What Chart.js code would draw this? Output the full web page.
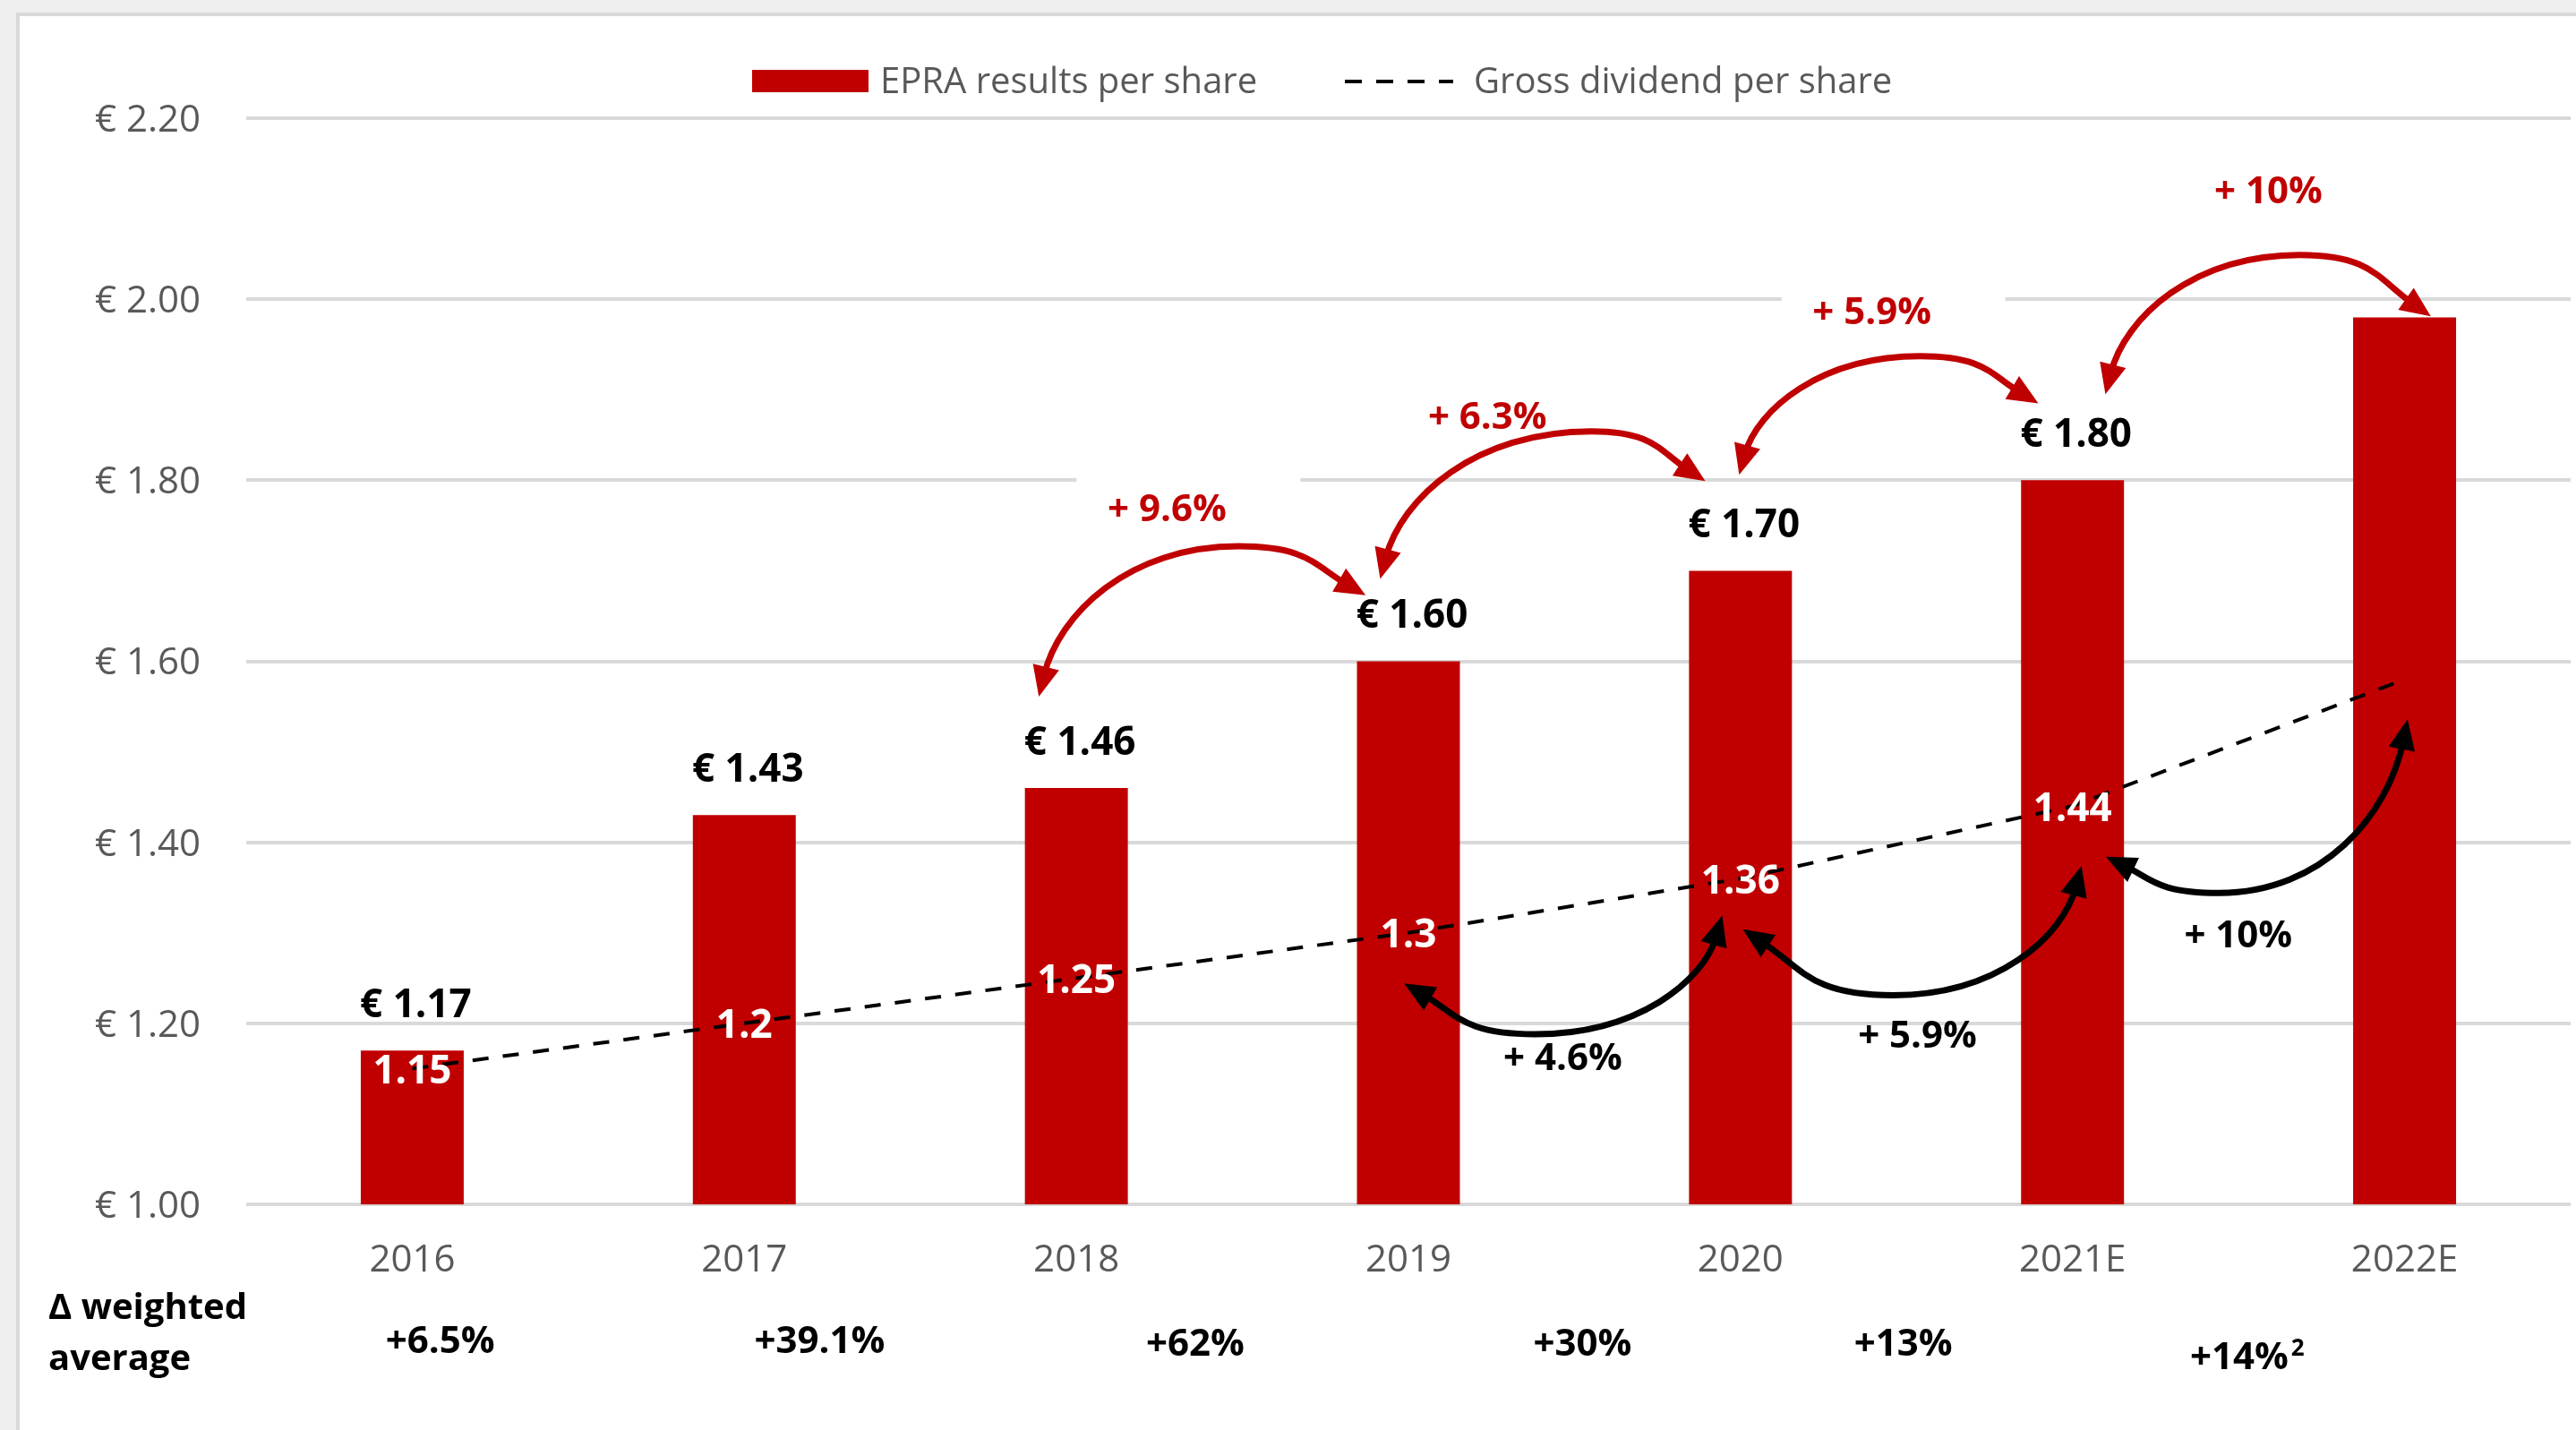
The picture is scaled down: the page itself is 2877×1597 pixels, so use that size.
<!DOCTYPE html>
<html>
<head>
<meta charset="utf-8">
<script src="https://cdn.jsdelivr.net/npm/chart.js@4.4.0/dist/chart.umd.min.js"></script>
<style>
  html, body { margin: 0; padding: 0; background: #efefef; overflow: hidden; }
  #panel { position: absolute; left: 18px; top: 14px; width: 2900px; height: 1650px; background: #fff; border: 4px solid #d9d9d9; box-sizing: border-box; }
  #wrap { position: absolute; left: 0; top: 0; width: 2877px; height: 1597px; }
</style>
</head>
<body>
<div id="panel"></div>
<div id="wrap"><canvas id="epraChart"></canvas></div>
<script>
const years = ['2016', '2017', '2018', '2019', '2020', '2021E', '2022E'];
const epraResults = [1.17, 1.43, 1.46, 1.60, 1.70, 1.80, 1.98];
const grossDividend = [1.15, 1.2, 1.25, 1.3, 1.36, 1.44, 1.58];
const yTicks = [1.00, 1.20, 1.40, 1.60, 1.80, 2.00, 2.20];
const epraLabels = ['€ 1.17', '€ 1.43', '€ 1.46', '€ 1.60', '€ 1.70', '€ 1.80', ''];
const dividendLabels = ['1.15', '1.2', '1.25', '1.3', '1.36', '1.44', ''];
const epraGrowth = ['+ 9.6%', '+ 6.3%', '+ 5.9%', '+ 10%'];
const dividendGrowth = ['+ 4.6%', '+ 5.9%', '+ 10%'];
const weightedAvg = ['+6.5%', '+39.1%', '+62%', '+30%', '+13%', '+14%'];

const FONT = '"Open Sans", "Liberation Sans", sans-serif';
const RED = '#c00000';

// curved arrows in (category index, value) units: start, apex, end, text
const redArrows = [
  { s: [1.887, 1.561], a: [2.488, 1.727], e: [2.871, 1.673], t: [2.273, 1.770] },
  { s: [2.915, 1.691], a: [3.551, 1.854], e: [3.894, 1.799], t: [3.238, 1.872] },
  { s: [3.996, 1.806], a: [4.541, 1.937], e: [4.897, 1.885], t: [4.396, 1.987] },
  { s: [5.099, 1.895], a: [5.685, 2.049], e: [6.079, 1.981], t: [5.590, 2.121] }
];
const blackArrows = [
  { s: [2.987, 1.244], a: [3.381, 1.188], e: [3.945, 1.319], t: [3.465, 1.163] },
  { s: [4.007, 1.304], a: [4.460, 1.231], e: [5.027, 1.374], t: [4.533, 1.188] },
  { s: [5.100, 1.384], a: [5.442, 1.344], e: [6.009, 1.536], t: [5.499, 1.299] }
];
// bottom row: x in category units, y offset below the plot
const weightedPos = [[0.084, 154], [1.227, 154], [2.358, 157], [3.524, 157], [4.490, 157], [5.502, 172]];

function drawArrow(ctx, s, a, e, redStyle, color) {
  const dx1 = a.x - s.x, dy1 = a.y - s.y, dx2 = e.x - a.x, dy2 = e.y - a.y;
  const c1 = redStyle ? {x: s.x + 0.1 * dx1, y: s.y + 0.55 * dy1} : {x: s.x + 0.4 * dx1, y: s.y + 0.6 * dy1};
  const c2 = {x: a.x - 0.55 * dx1, y: a.y};
  const c3 = {x: a.x + 0.55 * dx2, y: a.y};
  const c4 = redStyle ? {x: e.x - 0.4 * dx2, y: e.y - 0.6 * dy2} : {x: e.x - 0.1 * dx2, y: e.y - 0.55 * dy2};
  const L = 34, W = 15;
  const unit = (p, q) => { const d = Math.hypot(p.x - q.x, p.y - q.y); return {x: (p.x - q.x) / d, y: (p.y - q.y) / d}; };
  const dS = unit(s, c1), dE = unit(e, c4);
  const s2 = {x: s.x - dS.x * L * 0.7, y: s.y - dS.y * L * 0.7};
  const e2 = {x: e.x - dE.x * L * 0.7, y: e.y - dE.y * L * 0.7};
  ctx.strokeStyle = color;
  ctx.fillStyle = color;
  ctx.lineWidth = 7;
  ctx.setLineDash([]);
  ctx.beginPath();
  ctx.moveTo(s2.x, s2.y);
  ctx.bezierCurveTo(c1.x, c1.y, c2.x, c2.y, a.x, a.y);
  ctx.bezierCurveTo(c3.x, c3.y, c4.x, c4.y, e2.x, e2.y);
  ctx.stroke();
  [[s, dS], [e, dE]].forEach(([p, d]) => {
    const bx = p.x - d.x * L, by = p.y - d.y * L;
    ctx.beginPath();
    ctx.moveTo(p.x, p.y);
    ctx.lineTo(bx - d.y * W, by + d.x * W);
    ctx.lineTo(bx + d.y * W, by - d.x * W);
    ctx.closePath();
    ctx.fill();
  });
}

const annotations = {
  id: 'annotations',
  beforeDatasetsDraw(chart) {
    const {ctx, scales: {x, y}} = chart;
    ctx.save();
    ctx.fillStyle = '#ffffff';
    redArrows.forEach(a => {
      const cx = x.getPixelForValue(a.t[0]) + 24, cy = y.getPixelForValue(a.t[1]);
      ctx.fillRect(cx - 125, cy - 35, 250, 70);
    });
    ctx.restore();
  },
  afterDatasetsDraw(chart) {
    const {ctx, scales: {x, y}, chartArea} = chart;
    const pt = v => ({x: x.getPixelForValue(v[0]), y: y.getPixelForValue(v[1])});
    ctx.save();
    ctx.textAlign = 'center';
    ctx.textBaseline = 'middle';

    // bar value labels
    ctx.font = 'bold 44px ' + FONT;
    ctx.fillStyle = '#000000';
    chart.getDatasetMeta(0).data.forEach((bar, i) => {
      if (epraLabels[i]) ctx.fillText(epraLabels[i], bar.x + 4, bar.y - 50);
    });
    // dividend labels
    ctx.fillStyle = '#ffffff';
    chart.getDatasetMeta(1).data.forEach((p, i) => {
      if (dividendLabels[i]) ctx.fillText(dividendLabels[i], p.x, p.y + 4);
    });

    // arrows
    redArrows.forEach(a => drawArrow(ctx, pt(a.s), pt(a.a), pt(a.e), true, RED));
    blackArrows.forEach(a => drawArrow(ctx, pt(a.s), pt(a.a), pt(a.e), false, '#000000'));

    ctx.font = 'bold 42px ' + FONT;
    ctx.fillStyle = RED;
    redArrows.forEach((a, i) => { const p = pt(a.t); ctx.fillText(epraGrowth[i], p.x, p.y + 3); });
    ctx.fillStyle = '#000000';
    blackArrows.forEach((a, i) => { const p = pt(a.t); ctx.fillText(dividendGrowth[i], p.x, p.y + 3); });

    // weighted average row
    weightedPos.forEach(([c, dy], i) => {
      const px = x.getPixelForValue(c), py = chartArea.bottom + dy;
      ctx.font = 'bold 42px ' + FONT;
      ctx.textAlign = 'center';
      ctx.fillText(weightedAvg[i], px, py);
      if (i === weightedAvg.length - 1) {
        const w = ctx.measureText(weightedAvg[i]).width;
        ctx.font = 'bold 26px ' + FONT;
        ctx.textAlign = 'left';
        ctx.fillText('2', px + w / 2 + 3, py - 10);
      }
    });
    ctx.font = 'bold 40px ' + FONT;
    ctx.textAlign = 'left';
    ctx.fillText('\u0394 weighted', 54, chartArea.bottom + 117);
    ctx.fillText('average', 54, chartArea.bottom + 174);

    // legend
    ctx.font = '40px ' + FONT;
    ctx.fillStyle = RED;
    ctx.fillRect(840, 78, 130, 25);
    ctx.fillStyle = '#595959';
    ctx.fillText(chart.data.datasets[0].label, 983, 93);
    ctx.strokeStyle = '#000000';
    ctx.lineWidth = 4;
    ctx.setLineDash([19, 16]);
    ctx.beginPath();
    ctx.moveTo(1502, 91);
    ctx.lineTo(1623, 91);
    ctx.stroke();
    ctx.fillText(chart.data.datasets[1].label, 1646, 93);
    ctx.restore();
  }
};

const ctx = document.getElementById('epraChart').getContext('2d');

new Chart(ctx, {
    data: {
        labels: years,
        datasets: [{
            type: 'bar',
            label: 'EPRA results per share',
            data: epraResults,
            backgroundColor: RED,
            categoryPercentage: 1,
            barPercentage: 0.31,
            order: 1
        }, {
            type: 'line',
            label: 'Gross dividend per share',
            data: grossDividend,
            borderColor: '#000000',
            borderWidth: 4,
            borderDash: [18, 16],
            pointRadius: 0,
            tension: 0,
            fill: false,
            order: 0
        }]
    },
    options: {
        responsive: true,
        maintainAspectRatio: false,
        animation: false,
        devicePixelRatio: 1,
        layout: {
            padding: { top: 132, right: 6, left: 0, bottom: 0 }
        },
        scales: {
            x: {
                grid: { display: false },
                border: { display: false },
                ticks: {
                    color: '#595959',
                    font: { family: FONT, size: 42 },
                    padding: 30
                },
                afterFit: scale => { scale.height = 252; }
            },
            y: {
                min: 1,
                max: 2.2,
                grid: { color: '#d9d9d9', lineWidth: 4, drawTicks: false },
                border: { display: false },
                afterBuildTicks: scale => { scale.ticks = yTicks.map(v => ({ value: v })); },
                ticks: {
                    color: '#595959',
                    font: { family: FONT, size: 42 },
                    padding: 51,
                    labelOffset: 3,
                    callback: function(value) {
                        return '€ ' + Number(value).toFixed(2);
                    }
                },
                afterFit: scale => { scale.width = 275; }
            }
        },
        plugins: {
            legend: { display: false },
            tooltip: { enabled: false }
        }
    },
    plugins: [annotations]
});
</script>
</body>
</html>
